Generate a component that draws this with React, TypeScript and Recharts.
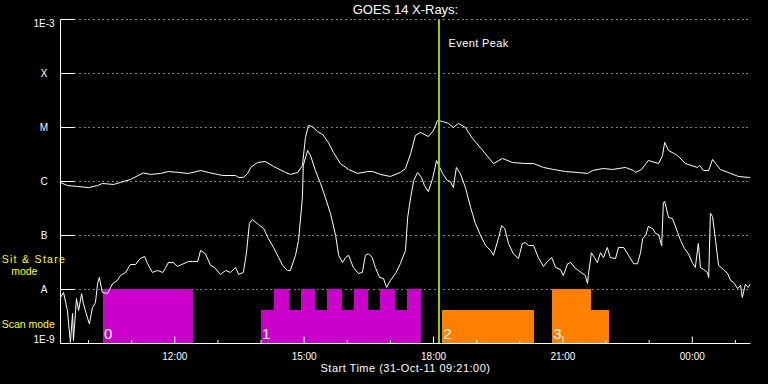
import React from "react";
import {
  ComposedChart,
  Line,
  XAxis,
  YAxis,
  CartesianGrid,
  ReferenceArea,
  ReferenceLine,
} from "recharts";

const FONT = "'Liberation Sans', Arial, sans-serif";

// [hour of day (24+ = next day), flux W/m^2]
const longChannel: [number, number][] = [
  [9.35, 9.6e-7], [9.51, 8.4e-7], [9.74, 8.1e-7], [10.0, 7.7e-7], [10.21, 8.4e-7],
  [10.32, 9.2e-7], [10.58, 8.8e-7], [10.74, 9.6e-7], [10.97, 1.09e-6], [11.27, 1.44e-6],
  [11.44, 1.35e-6], [11.67, 1.41e-6], [11.85, 1.53e-6], [12.09, 1.47e-6], [12.32, 1.41e-6],
  [12.6, 1.6e-6], [12.78, 1.47e-6], [13.11, 1.29e-6], [13.41, 1.29e-6], [13.48, 1.19e-6],
  [13.59, 1.19e-6], [13.69, 1.41e-6], [13.76, 1.82e-6], [13.92, 2.25e-6], [14.1, 2.35e-6],
  [14.29, 1.9e-6], [14.57, 1.47e-6], [14.68, 1.35e-6], [14.85, 1.47e-6], [14.96, 1.98e-6],
  [15.03, 6.5e-6], [15.1, 1.09e-5], [15.19, 1.04e-5], [15.31, 8.4e-6], [15.43, 7.4e-6],
  [15.56, 5.3e-6], [15.68, 3.44e-6], [15.84, 2.15e-6], [16.03, 1.67e-6], [16.24, 1.41e-6],
  [16.47, 1.53e-6], [16.59, 1.53e-6], [16.77, 1.35e-6], [17.0, 1.24e-6], [17.23, 1.47e-6],
  [17.35, 1.74e-6], [17.47, 3.3e-6], [17.58, 7.1e-6], [17.7, 8.1e-6], [17.88, 6.8e-6],
  [18.0, 8.8e-6], [18.09, 1.35e-5], [18.21, 1.29e-5], [18.35, 1.19e-5], [18.46, 1.0e-5],
  [18.58, 1.19e-5], [18.74, 1.0e-5], [18.9, 6.3e-6], [19.14, 3.75e-6], [19.39, 2.15e-6],
  [19.6, 2.67e-6], [19.83, 2.25e-6], [20.13, 2.15e-6], [20.32, 2.15e-6], [20.55, 1.82e-6],
  [20.78, 1.67e-6], [21.06, 1.53e-6], [21.34, 1.47e-6], [21.57, 1.41e-6], [21.69, 1.6e-6],
  [21.94, 1.74e-6], [22.15, 1.67e-6], [22.45, 1.82e-6], [22.64, 1.6e-6], [22.68, 1.47e-6],
  [22.82, 1.67e-6], [22.98, 2.45e-6], [23.22, 2.15e-6], [23.31, 3.03e-6], [23.36, 5.3e-6],
  [23.45, 3.75e-6], [23.66, 3.03e-6], [23.84, 2.15e-6], [24.12, 1.82e-6], [24.17, 1.98e-6],
  [24.26, 1.6e-6], [24.38, 1.6e-6], [24.47, 2.56e-6], [24.65, 1.67e-6], [24.89, 1.41e-6],
  [25.07, 1.24e-6], [25.3, 1.19e-6], [25.35, 1.19e-6],
];

const shortChannel: [number, number][] = [
  [9.35, 7.1e-9], [9.42, 8.8e-9], [9.51, 4.1e-9], [9.58, 1.04e-9], [9.63, 3.6e-9],
  [9.65, 1.14e-9], [9.72, 6.8e-9], [9.77, 4.1e-9], [9.84, 8.4e-9], [9.88, 5.5e-9],
  [9.98, 2.9e-9], [10.02, 2.3e-9], [10.09, 4.6e-9], [10.16, 5.7e-9], [10.21, 1.29e-8],
  [10.25, 1.67e-8], [10.32, 8.8e-9], [10.44, 8.4e-9], [10.56, 1.29e-8], [10.67, 1.47e-8],
  [10.74, 1.82e-8], [10.86, 2.07e-8], [10.97, 2.9e-8], [11.09, 2.9e-8], [11.2, 3.75e-8],
  [11.3, 4.1e-8], [11.37, 3.0e-8], [11.48, 2.07e-8], [11.6, 2.25e-8], [11.72, 2.07e-8],
  [11.78, 2.45e-8], [11.85, 3.16e-8], [11.97, 3.16e-8], [12.06, 2.67e-8], [12.16, 2.9e-8],
  [12.32, 3.3e-8], [12.41, 3.3e-8], [12.53, 3.3e-8], [12.6, 5.3e-8], [12.71, 4.6e-8],
  [12.83, 2.8e-8], [12.92, 2.56e-8], [13.06, 1.9e-8], [13.18, 2.25e-8], [13.29, 2.07e-8],
  [13.41, 2.56e-8], [13.48, 1.9e-8], [13.59, 2.07e-8], [13.66, 4.6e-8], [13.73, 1.67e-7],
  [13.8, 1.98e-7], [13.94, 1.6e-7], [14.06, 1.35e-7], [14.17, 8.8e-8], [14.29, 6.0e-8],
  [14.41, 3.9e-8], [14.5, 2.8e-8], [14.61, 2.25e-8], [14.68, 2.25e-8], [14.8, 4.3e-8],
  [14.87, 8.1e-8], [14.96, 5.1e-7], [14.98, 1.98e-6], [15.08, 3.75e-6], [15.15, 3.0e-6],
  [15.26, 1.6e-6], [15.38, 9.2e-7], [15.49, 5.1e-7], [15.61, 2.56e-7], [15.73, 1.0e-7],
  [15.8, 4.3e-8], [15.89, 3.16e-8], [15.96, 3.9e-8], [16.03, 4.3e-8], [16.14, 2.56e-8],
  [16.26, 1.98e-8], [16.35, 2.07e-8], [16.42, 4.3e-8], [16.49, 4.6e-8], [16.58, 3.9e-8],
  [16.65, 2.56e-8], [16.75, 1.67e-8], [16.84, 1.6e-8], [16.91, 1.09e-8], [17.0, 1.47e-8],
  [17.12, 1.98e-8], [17.23, 3.0e-8], [17.35, 5.3e-8], [17.4, 2.15e-7], [17.47, 5.1e-7],
  [17.54, 1.04e-6], [17.63, 1.47e-6], [17.72, 1.19e-6], [17.79, 8.4e-7], [17.88, 6.5e-7],
  [17.98, 1.14e-6], [18.07, 2.45e-6], [18.12, 1.98e-6], [18.21, 1.41e-6], [18.32, 1.04e-6],
  [18.39, 1.0e-6], [18.46, 7.7e-7], [18.53, 1.82e-6], [18.62, 1.41e-6], [18.74, 7.7e-7],
  [18.86, 3.3e-7], [18.97, 1.67e-7], [19.09, 1.0e-7], [19.21, 6.5e-8], [19.32, 5.3e-8],
  [19.39, 4.3e-8], [19.51, 9.2e-8], [19.58, 1.53e-7], [19.65, 1.35e-7], [19.74, 7.1e-8],
  [19.85, 4.6e-8], [19.97, 3.75e-8], [20.06, 7.1e-8], [20.13, 7.4e-8], [20.2, 6.5e-8],
  [20.32, 6.5e-8], [20.43, 3.9e-8], [20.55, 2.67e-8], [20.64, 3.3e-8], [20.74, 3.9e-8],
  [20.83, 2.56e-8], [20.94, 2.35e-8], [21.01, 1.82e-8], [21.11, 3.0e-8], [21.18, 3.16e-8],
  [21.27, 2.56e-8], [21.36, 2.25e-8], [21.45, 1.98e-8], [21.52, 1.82e-8], [21.57, 1.29e-8],
  [21.59, 1.82e-8], [21.66, 4.8e-8], [21.73, 3.9e-8], [21.8, 3.16e-8], [21.87, 4.8e-8],
  [21.94, 3.9e-8], [22.03, 6.0e-8], [22.1, 3.9e-8], [22.22, 3.75e-8], [22.29, 6.0e-8],
  [22.41, 6.0e-8], [22.52, 4.3e-8], [22.64, 3.0e-8], [22.73, 3.0e-8], [22.8, 4.8e-8],
  [22.85, 8.8e-8], [22.92, 1.0e-7], [22.98, 1.47e-7], [23.08, 1.35e-7], [23.15, 1.09e-7],
  [23.22, 1.04e-7], [23.29, 6.5e-8], [23.33, 4.1e-7], [23.36, 4.3e-7], [23.45, 2.15e-7],
  [23.54, 2.07e-7], [23.66, 1.14e-7], [23.73, 8.1e-8], [23.82, 5.7e-8], [23.91, 4.6e-8],
  [24.0, 3.16e-8], [24.07, 2.56e-8], [24.14, 7.1e-8], [24.19, 2.56e-8], [24.26, 2.35e-8],
  [24.35, 2.07e-8], [24.38, 1.67e-8], [24.42, 2.56e-7], [24.47, 2.25e-7], [24.54, 8.1e-8],
  [24.61, 2.8e-8], [24.72, 2.35e-8], [24.82, 1.98e-8], [24.89, 1.47e-8], [24.96, 1.35e-8],
  [25.05, 1.04e-8], [25.12, 1.19e-8], [25.16, 7.1e-9], [25.23, 1.24e-8], [25.3, 1.09e-8],
  [25.35, 1.29e-8],
];

// scan-mode segments: [start hour, end hour, level, block number]
const magentaSegments: [number, number, number, string][] = [
  [10.336, 12.42, 1e-8, "0"],
  [14.0, 17.71, 4.2e-9, "1"],
  [14.3, 14.65, 1e-8, ""],
  [14.93, 15.25, 1e-8, ""],
  [15.53, 15.88, 1e-8, ""],
  [16.16, 16.48, 1e-8, ""],
  [16.76, 17.11, 1e-8, ""],
  [17.385, 17.71, 1e-8, ""],
];
const orangeSegments: [number, number, number, string][] = [
  [18.2, 20.33, 4.2e-9, "2"],
  [20.75, 21.64, 1e-8, "3"],
  [21.64, 22.08, 4.2e-9, ""],
];

const hourTicks = [10, 11, 12, 13, 14, 15, 16, 17, 18, 19, 20, 21, 22, 23, 24, 25];
const levelTicks = [1e-9, 1e-8, 1e-7, 1e-6, 1e-5, 1e-4, 1e-3];
const levelNames = ["1E-9", "A", "B", "C", "M", "X", "1E-3"];
const eventPeak = 18.127;

const longData = longChannel.map(([t, f]) => ({ t, f }));
const shortData = shortChannel.map(([t, f]) => ({ t, f }));

const fmtHour = (h: number) => `${String(h % 24).padStart(2, "0")}:00`;

function BottomTick({ x, y, payload }: any) {
  const major = payload.value % 3 === 0;
  return (
    <g>
      <line x1={x} x2={x} y1={y} y2={y - (major ? 7 : 3.5)} stroke="#fff" />
      {major && (
        <text x={x} y={y + 16} textAnchor="middle" fill="#fff" fontSize={10} fontFamily={FONT}>
          {fmtHour(payload.value)}
        </text>
      )}
    </g>
  );
}

function TopTick({ x, y, payload }: any) {
  const major = payload.value % 3 === 0;
  return <line x1={x} x2={x} y1={y} y2={y + (major ? 7 : 3.5)} stroke="#fff" />;
}

function LeftTick({ x, y, payload }: any) {
  const idx = Math.round(Math.log10(payload.value)) + 9;
  const dy = idx === 6 ? 7 : idx === 0 ? -0.2 : 3.7;
  return (
    <g>
      <line x1={x} x2={x + 14} y1={y} y2={y} stroke="#fff" />
      <text x={x - 16.5} y={y + dy} textAnchor="middle" fill="#ffffff" fontSize={10} fontFamily={FONT}>
        {levelNames[idx]}
      </text>
    </g>
  );
}

function RightTick({ x, y }: any) {
  return <line x1={x} x2={x - 14} y1={y} y2={y} stroke="#fff" />;
}

// snap block edges to whole pixels like the original raster plot
function BlockRect({ x, y, width, height, fill }: any) {
  const x0 = Math.round(x);
  const x1 = Math.round(x + width);
  const y0 = Math.round(y - 0.2);
  const y1 = Math.round(y + height);
  return <rect x={x0} y={y0} width={x1 - x0} height={y1 - y0} fill={fill} />;
}

function BlockLabel({ viewBox, text }: any) {
  if (!text || !viewBox) return null;
  return (
    <text x={viewBox.x + 1} y={viewBox.y + viewBox.height - 5} fill="#fff" fontSize={15} fontFamily={FONT}>
      {text}
    </text>
  );
}

function EventLabel({ viewBox }: any) {
  if (!viewBox) return null;
  return (
    <text x={viewBox.x + 9.5} y={viewBox.y + 27} fill="#fff" fontSize={11} fontFamily={FONT} letterSpacing={0.4}>
      Event Peak
    </text>
  );
}

const renderSegments = (segs: [number, number, number, string][], color: string, key: string) =>
  segs.map(([a, b, level, lab], i) => (
    <ReferenceArea
      key={`${key}-${i}`}
      xAxisId="b"
      yAxisId="l"
      x1={a}
      x2={b}
      y1={1e-9}
      y2={level}
      fill={color}
      fillOpacity={1}
      stroke="none"
      shape={<BlockRect />}
      label={<BlockLabel text={lab} />}
    />
  ));

export default function App() {
  return (
    <div style={{ position: "absolute", left: 0, top: 0, width: 768, height: 384, background: "#000" }}>
      <ComposedChart width={768} height={384} margin={{ top: 19.5, right: 17.5, bottom: 0.5, left: 0.5 }}>
        <CartesianGrid xAxisId="b" yAxisId="l" vertical={false} stroke="#fff" strokeDasharray="1 4 1 4 1 3" />
        <XAxis
          xAxisId="b"
          type="number"
          dataKey="t"
          domain={[9.35, 25.35]}
          ticks={hourTicks}
          interval={0}
          allowDataOverflow
          height={40}
          tickSize={0}
          tickMargin={0}
          tickLine={false}
          axisLine={{ stroke: "#fff" }}
          tick={<BottomTick />}
        />
        <XAxis
          xAxisId="t"
          orientation="top"
          type="number"
          dataKey="t"
          domain={[9.35, 25.35]}
          ticks={hourTicks}
          interval={0}
          allowDataOverflow
          height={0}
          tickSize={0}
          tickMargin={0}
          tickLine={false}
          axisLine={{ stroke: "#fff" }}
          tick={<TopTick />}
        />
        <YAxis
          yAxisId="l"
          type="number"
          scale="log"
          domain={[1e-9, 1e-3]}
          ticks={levelTicks}
          interval={0}
          allowDataOverflow
          width={60}
          tickSize={0}
          tickMargin={0}
          tickLine={false}
          axisLine={{ stroke: "#fff" }}
          tick={<LeftTick />}
        />
        <YAxis
          yAxisId="r"
          orientation="right"
          type="number"
          scale="log"
          domain={[1e-9, 1e-3]}
          ticks={levelTicks}
          interval={0}
          allowDataOverflow
          width={0}
          tickSize={0}
          tickMargin={0}
          tickLine={false}
          axisLine={{ stroke: "#fff" }}
          tick={<RightTick />}
        />
        {renderSegments(magentaSegments, "#cc00cc", "m")}
        {renderSegments(orangeSegments, "#ff8000", "o")}
        <Line xAxisId="b" yAxisId="l" data={longData} dataKey="f" type="linear" stroke="#fff" strokeWidth={1} dot={false} isAnimationActive={false} />
        <Line xAxisId="b" yAxisId="l" data={shortData} dataKey="f" type="linear" stroke="#fff" strokeWidth={1} dot={false} isAnimationActive={false} />
        <ReferenceLine xAxisId="b" yAxisId="l" x={eventPeak} stroke="#99cc00" strokeWidth={2} label={<EventLabel />} />
      </ComposedChart>
      <svg width={768} height={384} style={{ position: "absolute", left: 0, top: 0, pointerEvents: "none" }}>
        <text x={405.5} y={14} textAnchor="middle" fill="#fff" fontSize={13} fontFamily={FONT}>
          GOES 14 X-Rays:
        </text>
        <text x={405.5} y={372} textAnchor="middle" fill="#fff" fontSize={11} fontFamily={FONT} letterSpacing={0.5}>
          Start Time (31-Oct-11 09:21:00)
        </text>
        <text x={1.7} y={262.7} fill="#ffff00" fontSize={10.5} fontFamily={FONT} letterSpacing={1.3}>
          Sit &amp; Stare
        </text>
        <text x={24.3} y={274.7} textAnchor="middle" fill="#ffff00" fontSize={10.5} fontFamily={FONT}>
          mode
        </text>
        <text x={1.7} y={327.7} fill="#ffff00" fontSize={10.5} fontFamily={FONT}>
          Scan mode
        </text>
      </svg>
    </div>
  );
}
